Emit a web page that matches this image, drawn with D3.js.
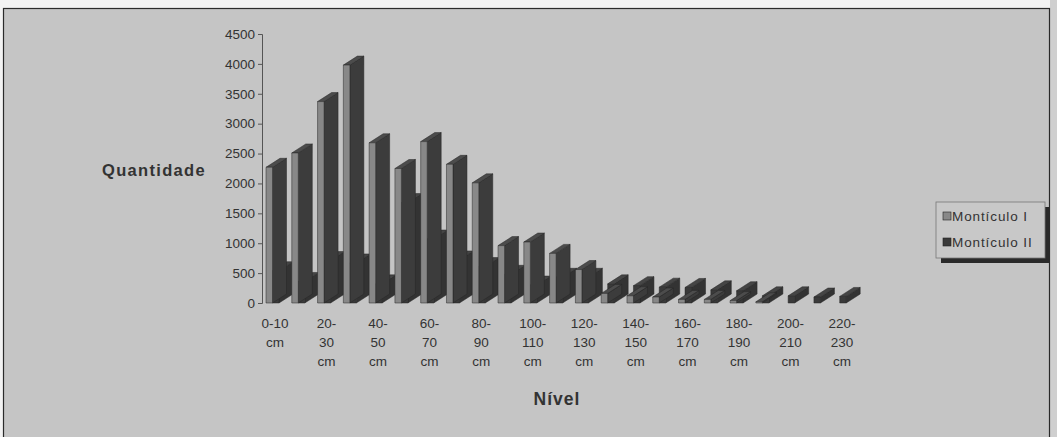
<!DOCTYPE html>
<html>
<head>
<meta charset="utf-8">
<script src="https://cdn.jsdelivr.net/npm/d3@7"></script>
<style>
    body { margin: 0; background: #f2f2f2; }
    svg { display: block; }
    text { font-family: Arial, "Liberation Sans", sans-serif; fill: #333; }
</style>
</head>
<body>
<svg id="chart"></svg>
<script>
// categories (depth levels)
const categories = ['0-10 cm', '10-20 cm', '20-30 cm', '30-40 cm', '40-50 cm', '50-60 cm',
    '60-70 cm', '70-80 cm', '80-90 cm', '90-100 cm', '100-110 cm', '110-120 cm',
    '120-130 cm', '130-140 cm', '140-150 cm', '150-160 cm', '160-170 cm', '170-180 cm',
    '180-190 cm', '190-200 cm', '200-210 cm', '210-220 cm', '220-230 cm'];

// only every second level gets a label
const tickLabels = ['0-10\ncm', '20-\n30\ncm', '40-\n50\ncm', '60-\n70\ncm', '80-\n90\ncm',
    '100-\n110\ncm', '120-\n130\ncm', '140-\n150\ncm', '160-\n170\ncm', '180-\n190\ncm',
    '200-\n210\ncm', '220-\n230\ncm'];

const monticulo1 = [2270, 2510, 3370, 3980, 2680, 2250, 2700, 2320, 2010, 960, 1020, 830,
    560, 160, 120, 100, 60, 60, 40, 20, 0, 0, 0];
const monticulo2 = [540, 360, 710, 670, 320, 1680, 1070, 720, 610, 480, 300, 430,
    430, 320, 290, 265, 260, 220, 205, 120, 120, 100, 110];

const seriesNames = ['Montículo I', 'Montículo II'];
const yTicks = [0, 500, 1000, 1500, 2000, 2500, 3000, 3500, 4000, 4500];

const W = 1057, H = 437;
const svg = d3.select('#chart').attr('width', W).attr('height', H);

// chart frame
svg.append('rect').attr('x', 1050).attr('y', 0).attr('width', 7).attr('height', H).attr('fill', '#cfcfcf');
svg.append('rect')
    .attr('x', 3.5).attr('y', 8.5).attr('width', 1046).attr('height', 440)
    .attr('fill', '#c5c5c5').attr('stroke', '#2a2a2a').attr('stroke-width', 1.2);

// scales
const x = d3.scaleBand().domain(categories).range([262, 855]);
const y = d3.scaleLinear().domain([0, 4500]).range([303, 34]);

// y axis
const yAxis = svg.append('g')
    .attr('class', 'y-axis')
    .attr('transform', 'translate(262,0)')
    .call(d3.axisLeft(y).tickValues(yTicks).tickSize(4).tickPadding(3).tickFormat(d3.format('d')));
yAxis.select('.domain').attr('stroke', '#555');
yAxis.selectAll('.tick line').attr('stroke', '#555');
yAxis.selectAll('.tick text')
    .style('font-size', '13.5px')
    .attr('fill', '#333');

// 3d bars: series II sits behind series I, so it is drawn first in each group
const faceW = 6.5, dx = 14, dy = -9;
const colors = [
    { front: '#888888', side: '#3c3c3c', top: '#4c4c4c' },
    { front: '#3a3a3a', side: '#333333', top: '#454545' }
];

const bars = [];
categories.forEach((c, i) => {
    [monticulo2[i], monticulo1[i]].forEach((v, k) => {
        if (v > 0) bars.push({ cat: c, s: 1 - k, v: v });
    });
});

const barG = svg.append('g').attr('class', 'bars');
const b = barG.selectAll('.bar')
    .data(bars)
    .enter()
    .append('g')
    .attr('class', 'bar');

function pts(d, face) {
    let x0 = x(d.cat) + 4 + d.s * faceW;
    let x1 = x0 + faceW;
    let y0 = y(0), yt = y(d.v);
    if (face === 'side') return [[x1, y0], [x1 + dx, y0 + dy], [x1 + dx, yt + dy], [x1, yt]];
    if (face === 'top') return [[x0, yt], [x0 + dx, yt + dy], [x1 + dx, yt + dy], [x1, yt]];
    return [[x0, y0], [x0, yt], [x1, yt], [x1, y0]];
}

['side', 'top', 'front'].forEach(face => {
    b.append('polygon')
        .attr('points', d => pts(d, face).map(p => p.join(',')).join(' '))
        .attr('fill', d => colors[d.s][face])
        .attr('stroke', '#262626')
        .attr('stroke-width', 0.5)
        .attr('stroke-linejoin', 'round');
});

// x tick labels
const labelG = svg.append('g').attr('class', 'x-labels');
tickLabels.forEach((t, k) => {
    let cx = x(categories[k * 2]) + x.bandwidth() / 2;
    let txt = labelG.append('text')
        .attr('x', cx)
        .attr('y', 328)
        .attr('text-anchor', 'middle')
        .style('font-size', '13.5px');
    t.split('\n').forEach((line, j) => {
        txt.append('tspan').attr('x', cx).attr('dy', j === 0 ? 0 : 19).text(line);
    });
});

// axis titles
svg.append('text')
    .attr('x', 154).attr('y', 176)
    .attr('text-anchor', 'middle')
    .style('font-size', '16.5px').style('font-weight', 'bold')
    .style('letter-spacing', '1.3px')
    .text('Quantidade');

svg.append('text')
    .attr('x', 557).attr('y', 405)
    .attr('text-anchor', 'middle')
    .style('font-size', '17.5px').style('font-weight', 'bold')
    .style('letter-spacing', '1px')
    .text('Nível');

// legend
const lg = svg.append('g').attr('class', 'legend').attr('transform', 'translate(936,202)');
lg.append('rect').attr('x', 5).attr('y', 5).attr('width', 109).attr('height', 56).attr('fill', '#2a2a2a');
lg.append('rect').attr('x', 0).attr('y', 0).attr('width', 109).attr('height', 56)
    .attr('fill', '#c8c8c8').attr('stroke', '#777').attr('stroke-width', 0.8);
seriesNames.forEach((name, i) => {
    let row = lg.append('g').attr('transform', `translate(7,${10 + i * 26})`);
    row.append('rect').attr('width', 8).attr('height', 8)
        .attr('fill', colors[i].front).attr('stroke', '#222').attr('stroke-width', 0.6);
    row.append('text').attr('x', 9).attr('y', 8.5)
        .style('font-size', '13.5px')
        .style('letter-spacing', '0.9px')
        .text(name);
});
</script>
</body>
</html>
